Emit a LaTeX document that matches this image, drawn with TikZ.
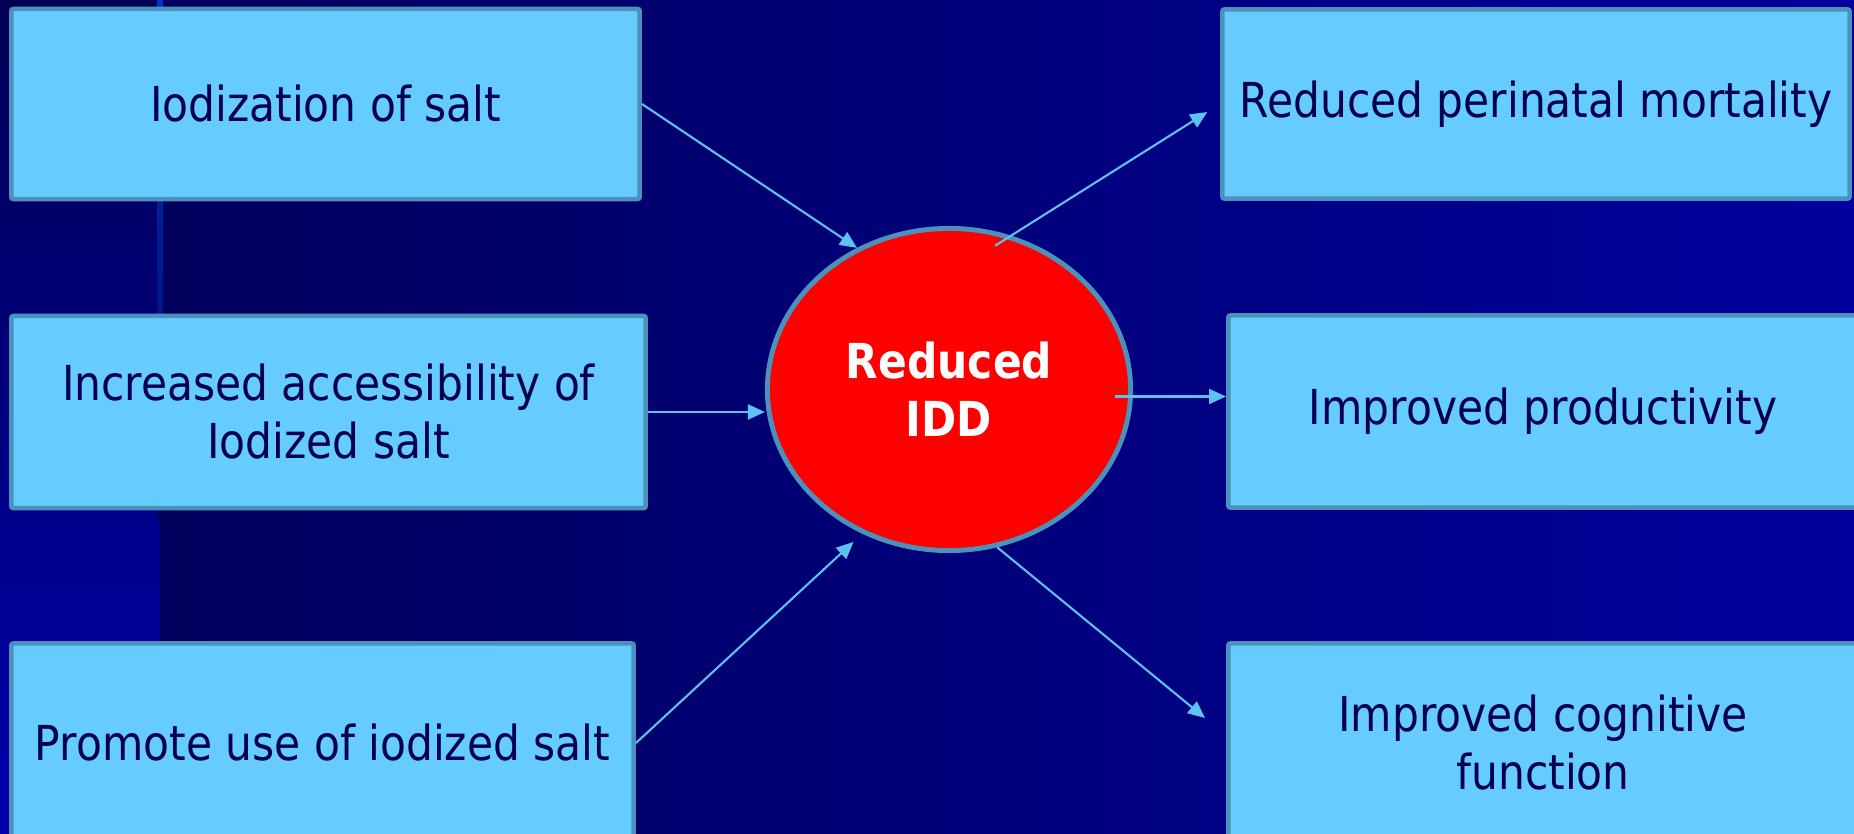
\documentclass[tikz,border=0pt]{standalone}
\usepackage{fontspec}
\setmainfont{DejaVu Sans}[FakeStretch=0.88]
\usetikzlibrary{arrows.meta,calc,shapes.geometric}

\definecolor{boxfill}{HTML}{66CCFF}
\definecolor{boxline}{HTML}{4A91BC}
\definecolor{txtnavy}{HTML}{000050}
\definecolor{arrowblue}{HTML}{5CC2F2}
\definecolor{iddred}{HTML}{FF0000}
\definecolor{bgleft}{RGB}{0,0,92}
\definecolor{bgright}{RGB}{0,0,156}
\definecolor{striptop}{RGB}{0,0,85}
\definecolor{stripbot}{RGB}{0,0,170}
\definecolor{stripline}{RGB}{0,50,200}

\begin{document}
\begin{tikzpicture}[x=0.01cm,y=-0.01cm,
    factor/.style={rectangle,draw=boxline,fill=boxfill,line width=1.3pt,rounded corners=0.6pt,
      text=txtnavy,align=center,inner sep=2pt,font=\fontsize{13.7}{16.5}\selectfont},
    result/.style={ellipse,draw=boxline,fill=iddred,line width=1.4pt,text=white,align=center,
      font=\bfseries\fontsize{13.7}{16.5}\selectfont,minimum width=3.63cm,minimum height=3.22cm}]
  \useasboundingbox (0,0) rectangle (1854,833);
  \clip (0,0) rectangle (1854,833);

  % background
  \fill[left color=bgleft,right color=bgright] (160,0) rectangle (1854,833);
  \fill[top color=striptop,bottom color=stripbot] (0,0) rectangle (160,833);
  \fill[top color=stripline,bottom color=bgleft] (157,0) rectangle (163,520);

  \begin{scope}[every node/.style={factor}]
    \node[minimum width=6.28cm,minimum height=1.90cm] (L1) at (325.5,104) {Iodization of salt};
    \node[minimum width=6.34cm,minimum height=1.92cm] (L2) at (328.5,412) {Increased accessibility of\\Iodized salt};
    \node[minimum width=6.22cm,minimum height=1.99cm] (L3) at (322.5,743) {Promote use of iodized salt};
    \node[minimum width=6.27cm,minimum height=1.89cm] (R1) at (1536,104) {Reduced perinatal mortality};
    \node[minimum width=6.29cm,minimum height=1.92cm] (R2) at (1543,411.5) {Improved productivity};
    \node[minimum width=6.29cm,minimum height=1.99cm] (R3) at (1543,743) {Improved cognitive\\function};
  \end{scope}

  \node[result] (idd) at (949,389.5) {Reduced\\IDD};

  \begin{scope}[every edge/.style={draw=arrowblue,line width=0.6pt,-{Triangle[length=0.17cm,width=0.15cm]}}]
    \path (L1.east) edge (idd.123);
    \path (L2.east) edge (L2.east -| idd.west);
    \path (L3.east) edge[shorten >=0.12cm] (idd.239);
    \path (idd.68) edge[shorten <=-0.19cm,shorten >=0.15cm] (R1.west);
    \path ($(idd.east)+(-18,7)$) edge ($(R2.west |- idd.east)+(0,7)$);
    \path (idd.287) edge ($(R3.west)+(-21,-25)$);
  \end{scope}
\end{tikzpicture}
\end{document}
